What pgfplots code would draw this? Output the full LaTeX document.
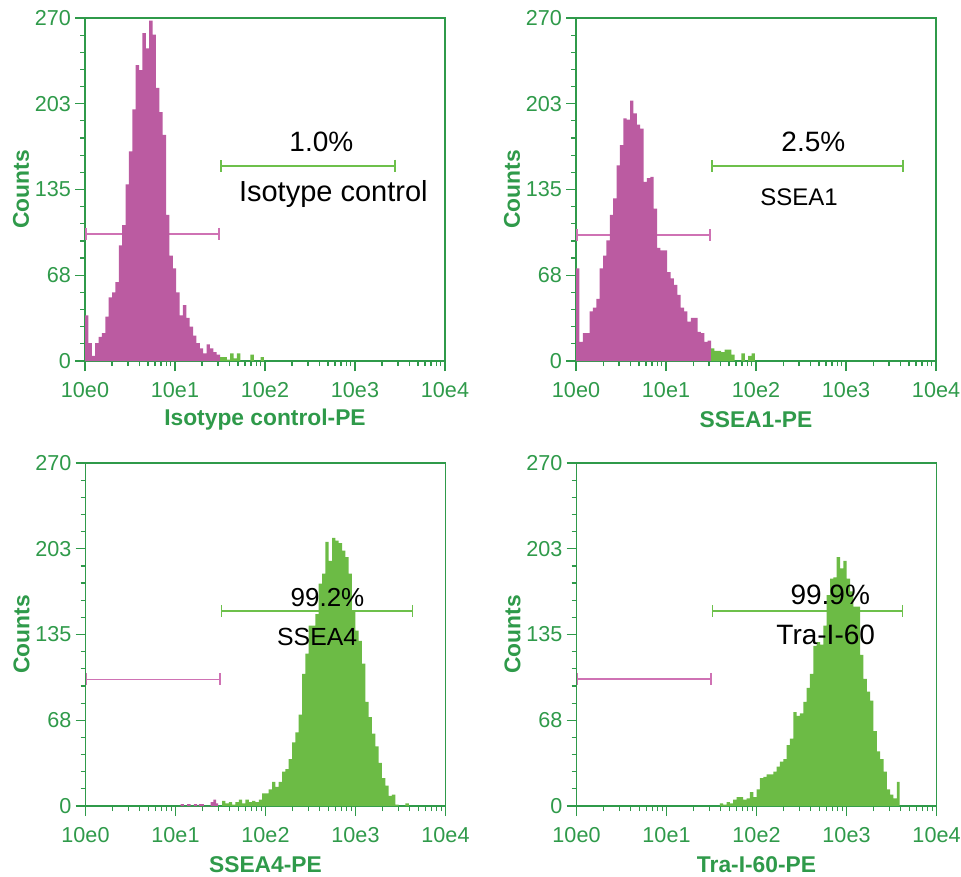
\documentclass[border=0pt]{standalone}
\usepackage{fontspec}
\setmainfont{Liberation Sans}
\usepackage{pgfplots}
\pgfplotsset{compat=1.18}
\usepackage{pgfplotstable}
\usetikzlibrary{arrows.meta}
\definecolor{axgreen}{HTML}{2F9A4A}
\definecolor{hmag}{HTML}{BB5BA1}
\definecolor{hgreen}{HTML}{6CBB45}
\definecolor{gmag}{HTML}{CF72B4}
\definecolor{ggreen}{HTML}{6DC04B}

% x = log10(fluorescence), y = counts (left edge of each bin)
\pgfplotstableread{
x y
0 36
0.0375 14
0.075 4
0.1125 14
0.15 19
0.1875 22
0.225 35
0.2625 50
0.3 54
0.3375 62
0.375 91
0.4125 107
0.45 139
0.4875 165
0.525 198
0.5625 233
0.6 229
0.6375 258
0.675 246
0.7125 268
0.75 257
0.7875 215
0.825 196
0.8625 178
0.9 115
0.9375 83
0.975 73
1.0125 54
1.05 36
1.0875 44
1.125 34
1.1625 27
1.2 20
1.2375 14
1.275 10
1.3125 6
1.35 13
1.3875 10
1.425 7
1.4625 5
1.5 0
}\isoM
\pgfplotstableread{
x y
1.5 3
1.5375 3
1.575 1
1.6125 6
1.65 2
1.6875 6
1.725 0
1.8375 5
1.875 0
1.95 3
1.9875 0
}\isoG
\pgfplotstableread{
x y
0 73
0.0375 15
0.075 22
0.1125 22
0.15 39
0.1875 42
0.225 49
0.2625 73
0.3 83
0.3375 95
0.375 115
0.4125 128
0.45 154
0.4875 170
0.525 191
0.5625 190
0.6 205
0.6375 195
0.675 186
0.7125 183
0.75 141
0.7875 144
0.825 145
0.8625 120
0.9 89
0.9375 87
0.975 87
1.0125 70
1.05 65
1.0875 60
1.125 52
1.1625 42
1.2 39
1.2375 31
1.275 34
1.3125 34
1.35 23
1.3875 22
1.425 15
1.4625 16
1.5 0
}\saM
\pgfplotstableread{
x y
1.5 10
1.5375 8
1.575 8
1.6125 7
1.65 9
1.6875 9
1.725 5
1.7625 0
1.8375 6
1.875 0
1.9125 4
1.95 6
1.9875 0
}\saG
\pgfplotstableread{
x y
1.056 1.5
1.093 0
1.130 1.5
1.167 0
1.204 1.5
1.241 0
1.260 1.5
1.315 0
1.389 3
1.420 5
1.450 2
1.474 0
}\sbM
\pgfplotstableread{
x y
1.481 0
1.518 4
1.555 2
1.592 3
1.629 1
1.666 3
1.703 5
1.740 2
1.777 5
1.814 3
1.851 4
1.888 3
1.925 5
1.962 10
1.999 10
2.036 13
2.073 19
2.110 15
2.147 19
2.184 27
2.221 29
2.258 37
2.295 50
2.332 58
2.369 72
2.406 104
2.443 120
2.480 142
2.517 142
2.554 151
2.591 175
2.628 183
2.665 208
2.702 193
2.739 211
2.776 209
2.813 207
2.850 201
2.887 196
2.924 183
2.961 154
2.998 138
3.035 130
3.072 112
3.109 82
3.146 70
3.183 57
3.220 47
3.257 34
3.294 22
3.331 16
3.368 8
3.405 9
3.442 1
3.479 0
3.555 2
3.592 0
}\sbG
\pgfplotstableread{
x y
1.593 2
1.630 1
1.667 3
1.704 2
1.741 5
1.778 7
1.815 7
1.852 5
1.889 6
1.927 11
1.964 7
2.001 13
2.038 22
2.075 23
2.112 25
2.149 25
2.186 27
2.223 31
2.260 35
2.298 37
2.335 48
2.372 53
2.409 74
2.446 71
2.483 73
2.520 82
2.557 93
2.594 104
2.631 126
2.669 129
2.706 127
2.743 142
2.780 166
2.817 179
2.854 180
2.891 196
2.928 187
2.965 193
3.002 179
3.040 169
3.077 157
3.114 157
3.151 119
3.188 100
3.225 90
3.262 83
3.299 59
3.336 43
3.373 37
3.411 27
3.448 13
3.485 9
3.522 6
3.559 19
3.590 0
}\traG

\tikzset{
  gm/.style={gmag,line width=0.8pt,{Bar[width=6pt]}-{Bar[width=6pt]}},
  gg/.style={ggreen,line width=0.8pt,{Bar[width=6pt]}-{Bar[width=6pt]}},
}
\pgfplotsset{
  facs/.style={
    width=180pt, height=171.5pt, scale only axis, anchor=south west,
    xmin=0, xmax=4, ymin=0, ymax=270,
    xtick={0,1,2,3,4}, xticklabels={10e0,10e1,10e2,10e3,10e4},
    minor xtick={0.301,0.477,0.602,0.699,0.778,0.845,0.903,0.954,
      1.301,1.477,1.602,1.699,1.778,1.845,1.903,1.954,
      2.301,2.477,2.602,2.699,2.778,2.845,2.903,2.954,
      3.301,3.477,3.602,3.699,3.778,3.845,3.903,3.954},
    ytick={0,67.5,135,202.5,270}, yticklabels={0,68,135,203,270},
    minor ytick={13.5,27,40.5,54,81,94.5,108,121.5,148.5,162,175.5,189,216,229.5,243,256.5},
    tick align=outside, xtick pos=bottom, ytick pos=left,
    major tick length=5pt, minor tick length=2.5pt,
    axis line style={axgreen,line width=0.75pt},
    tick style={axgreen,line width=0.6pt},
    tick label style={font=\fontsize{10.8}{12}\selectfont, text=axgreen},
    yticklabel style={xshift=1.5pt},
    xticklabel style={yshift=-2pt},
    label style={font=\fontsize{11.4}{13}\selectfont\bfseries, text=axgreen},
    ylabel={Counts},
    ylabel style={at={(axis description cs:-0.178,0.5)}, anchor=center},
    xlabel style={at={(axis description cs:0.5,-0.172)}, anchor=center},
  },
  hm/.style={fill=hmag,draw=none,const plot mark left},
  hg/.style={fill=hgreen,draw=none,const plot mark left},
}

\begin{document}
\begin{tikzpicture}
\begin{axis}[facs, at={(42.5pt,-180.5pt)}, xlabel={Isotype control-PE}]
\draw[gm] (axis cs:0,100) -- (axis cs:1.5,100);
\draw[gg] (axis cs:1.5,153.7) -- (axis cs:3.45,153.7);
\addplot[hm] table[x=x,y=y]{\isoM} \closedcycle;
\addplot[hg] table[x=x,y=y]{\isoG} \closedcycle;
\node[anchor=base,font=\fontsize{14}{16}\selectfont] at (axis cs:2.626,164.7) {1.0\%};
\node[anchor=base,font=\fontsize{14.5}{16}\selectfont] at (axis cs:2.759,125.4) {Isotype control};
\end{axis}

\begin{axis}[facs, at={(288pt,-180.5pt)}, xlabel={SSEA1-PE}]
\draw[gm] (axis cs:0,99) -- (axis cs:1.5,99);
\draw[gg] (axis cs:1.5,153.7) -- (axis cs:3.64,153.7);
\addplot[hm] table[x=x,y=y]{\saM} \closedcycle;
\addplot[hg] table[x=x,y=y]{\saG} \closedcycle;
\node[anchor=base,font=\fontsize{14}{16}\selectfont] at (axis cs:2.637,164.7) {2.5\%};
\node[anchor=base,font=\fontsize{12}{14}\selectfont] at (axis cs:2.477,122.2) {SSEA1};
\end{axis}

\begin{axis}[facs, at={(42.75pt,-403pt)}, xlabel={SSEA4-PE}]
\draw[gm] (axis cs:0,99.7) -- (axis cs:1.5,99.7);
\draw[gg] (axis cs:1.5,153.7) -- (axis cs:3.64,153.7);
\addplot[hm] table[x=x,y=y]{\sbM} \closedcycle;
\addplot[hg] table[x=x,y=y]{\sbG} \closedcycle;
\node[anchor=base,font=\fontsize{13}{15}\selectfont] at (axis cs:2.689,156.8) {99.2\%};
\node[anchor=base,font=\fontsize{12.4}{14}\selectfont] at (axis cs:2.574,126.2) {SSEA4};
\end{axis}

\begin{axis}[facs, at={(288.25pt,-403pt)}, xlabel={Tra-I-60-PE}]
\draw[gm] (axis cs:0,100) -- (axis cs:1.5,100);
\draw[gg] (axis cs:1.5,153.7) -- (axis cs:3.63,153.7);
\addplot[hg] table[x=x,y=y]{\traG} \closedcycle;
\node[anchor=base,font=\fontsize{14}{16}\selectfont] at (axis cs:2.819,158.7) {99.9\%};
\node[anchor=base,font=\fontsize{14}{16}\selectfont] at (axis cs:2.769,127.5) {Tra-I-60};
\end{axis}
\pgfresetboundingbox
\path[use as bounding box] (0,0) rectangle (480.5pt,-438pt);
\end{tikzpicture}
\end{document}
